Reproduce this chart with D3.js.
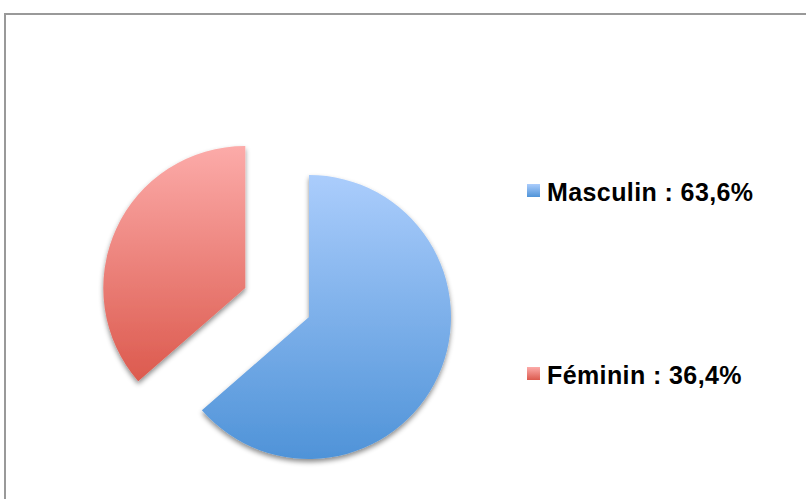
<!DOCTYPE html>
<html>
<head>
<meta charset="utf-8">
<script src="https://cdn.jsdelivr.net/npm/d3@7"></script>
<style>
  body { margin: 0; background: #fff; }
  svg { display: block; }
</style>
</head>
<body>
<div id="chart"></div>
<script>
const categories = ['Masculin', 'Féminin']
const values = [63.6, 36.4]
const legendLabels = ['Masculin : 63,6%', 'Féminin : 36,4%']
const gradientStops = [['#abcdfc', '#4f93d8'], ['#fcaba9', '#dc5a4e']]

const width = 806
const height = 499
const center = {x: 309, y: 317}
const radius = 142
const explode = 70

const svg = d3.select('#chart')
    .append('svg')
    .attr('width', width)
    .attr('height', height)

// frame
svg.append('rect')
    .attr('x', 5)
    .attr('y', 14)
    .attr('width', width + 10)
    .attr('height', height + 10)
    .attr('fill', 'none')
    .attr('stroke', '#999')
    .attr('stroke-width', 2)

const defs = svg.append('defs')

defs.append('filter')
    .attr('id', 'shadow')
    .attr('x', '-20%').attr('y', '-20%')
    .attr('width', '140%').attr('height', '140%')
    .append('feDropShadow')
    .attr('dx', 0)
    .attr('dy', 3)
    .attr('stdDeviation', 2.5)
    .attr('flood-color', '#000')
    .attr('flood-opacity', 0.45)

gradientStops.forEach((stops, i) => {
    const g = defs.append('linearGradient')
        .attr('id', 'grad' + i)
        .attr('x1', 0).attr('y1', 0)
        .attr('x2', 0).attr('y2', 1)
    g.append('stop').attr('offset', '0%').attr('stop-color', stops[0])
    g.append('stop').attr('offset', '100%').attr('stop-color', stops[1])
})

const pie = d3.pie().sort(null).value(d => d)
const arcs = pie(values)
const arc = d3.arc().innerRadius(0).outerRadius(radius)

// first slice stays, second is pulled out
svg.append('g')
    .selectAll('path')
    .data(arcs)
    .enter()
    .append('path')
    .attr('d', arc)
    .attr('fill', (d, i) => `url(#grad${i})`)
    .attr('filter', 'url(#shadow)')
    .attr('transform', (d, i) => {
        const off = i === 1 ? explode : 0
        const mid = (d.startAngle + d.endAngle) / 2
        const x = center.x + off * Math.sin(mid)
        const y = center.y - off * Math.cos(mid)
        return `translate(${x},${y})`
    })

// legend
const legendY = [201, 384]
const legend = svg.append('g')
    .selectAll('g')
    .data(categories)
    .enter()
    .append('g')
    .attr('transform', (d, i) => `translate(527,${legendY[i]})`)

legend.append('rect')
    .attr('x', 0)
    .attr('y', -17)
    .attr('width', 13)
    .attr('height', 13)
    .attr('fill', (d, i) => `url(#grad${i})`)

legend.append('text')
    .attr('x', 20)
    .attr('y', 0)
    .attr('font-family', 'Liberation Sans, Arial, sans-serif')
    .attr('font-weight', 'bold')
    .attr('font-size', 25)
    .attr('letter-spacing', 0.4)
    .attr('fill', '#000')
    .text((d, i) => legendLabels[i])
</script>
</body>
</html>
